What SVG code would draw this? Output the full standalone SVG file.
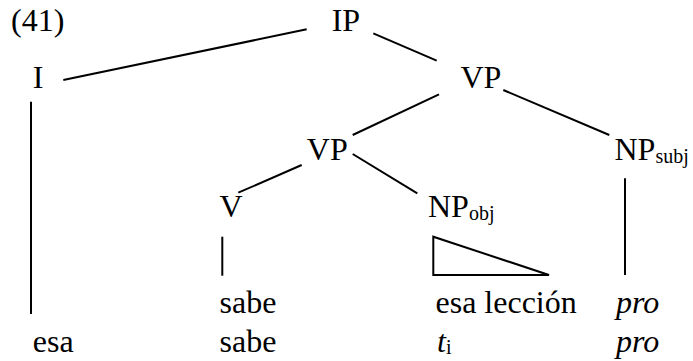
<svg xmlns="http://www.w3.org/2000/svg" width="693" height="361" viewBox="0 0 693 361" font-family="'Liberation Serif', serif">
  <style>
    text { font-family: 'Liberation Serif', serif; font-size: 32px; fill: #000; }
    .sub { font-size: 20px; }
    .it { font-style: italic; }
    line, polygon { stroke: #000; stroke-width: 2; fill: none; stroke-linecap: butt; }
  </style>
  <rect width="693" height="361" fill="#fff"/>
  <text id="label" x="11" y="31">(41)</text>
  <g id="connectors">
    <line x1="63.3" y1="80" x2="306.7" y2="29.3"/>
    <line x1="373.3" y1="33.3" x2="436.7" y2="60.7"/>
    <line x1="439" y1="94.3" x2="352.7" y2="135"/>
    <line x1="503.3" y1="90" x2="609.3" y2="135"/>
    <line x1="301.7" y1="165" x2="238.3" y2="192.7"/>
    <line x1="352.7" y1="154" x2="417.3" y2="193.3"/>
    <line x1="31" y1="101.7" x2="31" y2="314"/>
    <line x1="222.3" y1="236.7" x2="222.3" y2="275.7"/>
    <line x1="625" y1="178.3" x2="625" y2="275"/>
    <polygon points="433.3,236.7 433.3,275 549,275"/>
  </g>
  <g id="node-IP"><text x="331.7" y="31">IP</text></g>
  <g id="node-I"><text x="32.7" y="88.3">I</text></g>
  <g id="node-VP1"><text x="460.5" y="88">VP</text></g>
  <g id="node-VP2"><text x="306.8" y="160">VP</text></g>
  <g id="node-NPsubj"><text x="614.5" y="160">NP<tspan class="sub" dy="2.5">subj</tspan></text></g>
  <g id="node-V"><text x="219.5" y="216.7">V</text></g>
  <g id="node-NPobj"><text x="428" y="216.7">NP<tspan class="sub" dy="3">obj</tspan></text></g>
  <g id="leaves">
    <text x="219.5" y="313.3">sabe</text>
    <text x="435.5" y="313.3">esa lección</text>
    <text class="it" x="616" y="313.3">pro</text>
    <text x="32.8" y="351.7">esa</text>
    <text x="219.5" y="351.7">sabe</text>
    <text x="437" y="351.7"><tspan class="it">t</tspan><tspan class="sub" dy="2">i</tspan></text>
    <text class="it" x="616" y="351.7">pro</text>
  </g>
</svg>
